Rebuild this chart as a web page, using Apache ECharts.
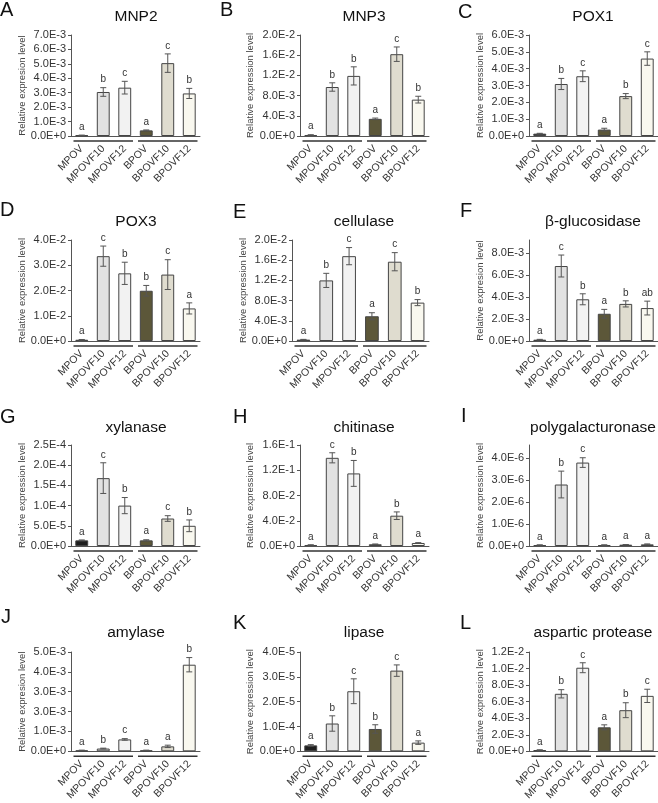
<!DOCTYPE html>
<html>
<head>
<meta charset="utf-8">
<script src="https://cdn.jsdelivr.net/npm/echarts@6/dist/echarts.min.js"></script>
<style>
  html, body { margin: 0; padding: 0; background: #fff; }
  #main { width: 658px; height: 803px; }
</style>
</head>
<body>
<div id="main"></div>
<script>
const categories = ['MPOV', 'MPOVF10', 'MPOVF12', 'BPOV', 'BPOVF10', 'BPOVF12'];
const panelLetters = ['A', 'B', 'C', 'D', 'E', 'F', 'G', 'H', 'I', 'J', 'K', 'L'];
const genes = ['MNP2', 'MNP3', 'POX1', 'POX3', 'cellulase', 'β-glucosidase',
  'xylanase', 'chitinase', 'polygalacturonase', 'amylase', 'lipase', 'aspartic protease'];
const yNames = ['Relative expresion level', 'Relative expression level', 'Relative expression level',
  'Relative expression level', 'Relative expression level', 'Relative expresion level',
  'Relative expression level', 'Relative expression level', 'Relative expression level',
  'Relative expresion level', 'Relative expression level', 'Relative expression level'];

// mean expression per category, one row per panel
const means = [
  [0.05e-3, 3.05e-3, 3.35e-3, 0.39e-3, 5.05e-3, 2.95e-3],
  [0.2e-3, 9.7e-3, 11.9e-3, 3.4e-3, 16.2e-3, 7.2e-3],
  [0.14e-3, 3.09e-3, 3.55e-3, 0.38e-3, 2.37e-3, 4.6e-3],
  [0.5e-3, 33.6e-3, 26.8e-3, 19.9e-3, 26.3e-3, 12.9e-3],
  [0.27e-3, 12.0e-3, 16.8e-3, 4.9e-3, 15.7e-3, 7.6e-3],
  [0.12e-3, 6.83e-3, 3.8e-3, 2.48e-3, 3.38e-3, 3.0e-3],
  [1.4e-5, 16.8e-5, 10.0e-5, 1.4e-5, 6.8e-5, 5.0e-5],
  [0.16e-2, 13.97e-2, 11.5e-2, 0.27e-2, 4.8e-2, 0.48e-2],
  [0.045e-6, 2.8e-6, 3.8e-6, 0.045e-6, 0.06e-6, 0.075e-6],
  [0.05e-3, 0.14e-3, 0.6e-3, 0.05e-3, 0.25e-3, 4.36e-3],
  [0.24e-5, 1.12e-5, 2.42e-5, 0.9e-5, 3.25e-5, 0.35e-5],
  [0.16e-3, 6.95e-3, 10.1e-3, 2.9e-3, 4.97e-3, 6.7e-3]
];

// error bar half-lengths
const errors = [
  [0.01e-3, 0.3e-3, 0.44e-3, 0.03e-3, 0.64e-3, 0.35e-3],
  [0.05e-3, 0.83e-3, 1.8e-3, 0.15e-3, 1.43e-3, 0.67e-3],
  [0.02e-3, 0.33e-3, 0.32e-3, 0.08e-3, 0.15e-3, 0.4e-3],
  [0.1e-3, 4.0e-3, 4.4e-3, 2.1e-3, 5.9e-3, 2.2e-3],
  [0.05e-3, 1.4e-3, 1.7e-3, 0.7e-3, 1.8e-3, 0.6e-3],
  [0.03e-3, 1.0e-3, 0.5e-3, 0.4e-3, 0.28e-3, 0.63e-3],
  [0.1e-5, 3.8e-5, 2.0e-5, 0.15e-5, 0.7e-5, 1.45e-5],
  [0.03e-2, 0.8e-2, 2.05e-2, 0.05e-2, 0.6e-2, 0.05e-2],
  [0.005e-6, 0.61e-6, 0.22e-6, 0.005e-6, 0.005e-6, 0.02e-6],
  [0.01e-3, 0.02e-3, 0.04e-3, 0.01e-3, 0.06e-3, 0.36e-3],
  [0.03e-5, 0.31e-5, 0.5e-5, 0.17e-5, 0.23e-5, 0.07e-5],
  [0.02e-3, 0.5e-3, 0.6e-3, 0.3e-3, 0.9e-3, 0.8e-3]
];

// significance letters
const sigLetters = [
  ['a', 'b', 'c', 'a', 'c', 'b'],
  ['a', 'b', 'b', 'a', 'c', 'b'],
  ['a', 'b', 'c', 'a', 'b', 'c'],
  ['a', 'c', 'b', 'b', 'c', 'a'],
  ['a', 'b', 'c', 'a', 'c', 'b'],
  ['a', 'c', 'b', 'a', 'b', 'ab'],
  ['a', 'c', 'b', 'a', 'c', 'b'],
  ['a', 'c', 'b', 'a', 'b', 'a'],
  ['a', 'b', 'c', 'a', 'a', 'a'],
  ['a', 'b', 'c', 'a', 'a', 'b'],
  ['a', 'b', 'c', 'b', 'c', 'a'],
  ['a', 'b', 'c', 'a', 'b', 'c']
];

const yMax = [7e-3, 2e-2, 6e-3, 4e-2, 2e-2, 9.2e-3, 2.5e-4, 1.6e-1, 4.6e-6, 5e-3, 4e-5, 1.2e-2];

const yTicks = [
  [0, 1e-3, 2e-3, 3e-3, 4e-3, 5e-3, 6e-3, 7e-3],
  [0, 4e-3, 8e-3, 12e-3, 16e-3, 20e-3],
  [0, 1e-3, 2e-3, 3e-3, 4e-3, 5e-3, 6e-3],
  [0, 1e-2, 2e-2, 3e-2, 4e-2],
  [0, 4e-3, 8e-3, 12e-3, 16e-3, 20e-3],
  [0, 2e-3, 4e-3, 6e-3, 8e-3],
  [0, 5e-5, 10e-5, 15e-5, 20e-5, 25e-5],
  [0, 4e-2, 8e-2, 12e-2, 16e-2],
  [0, 1e-6, 2e-6, 3e-6, 4e-6],
  [0, 1e-3, 2e-3, 3e-3, 4e-3, 5e-3],
  [0, 1e-5, 2e-5, 3e-5, 4e-5],
  [0, 2e-3, 4e-3, 6e-3, 8e-3, 10e-3, 12e-3]
];

const yTickLabels = [
  ['0.0E+0', '1.0E-3', '2.0E-3', '3.0E-3', '4.0E-3', '5.0E-3', '6.0E-3', '7.0E-3'],
  ['0.0E+0', '4.0E-3', '8.0E-3', '1.2E-2', '1.6E-2', '2.0E-2'],
  ['0.0E+0', '1.0E-3', '2.0E-3', '3.0E-3', '4.0E-3', '5.0E-3', '6.0E-3'],
  ['0.0E+0', '1.0E-2', '2.0E-2', '3.0E-2', '4.0E-2'],
  ['0.0E+0', '4.0E-3', '8.0E-3', '1.2E-2', '1.6E-2', '2.0E-2'],
  ['0.0E+0', '2.0E-3', '4.0E-3', '6.0E-3', '8.0E-3'],
  ['0.0E+0', '5.0E-5', '1.0E-4', '1.5E-4', '2.0E-4', '2.5E-4'],
  ['0.0E+0', '4.0E-2', '8.0E-2', '1.2E-1', '1.6E-1'],
  ['0.0E+0', '1.0E-6', '2.0E-6', '3.0E-6', '4.0E-6'],
  ['0.0E+0', '1.0E-3', '3.0E-3', '3.0E-3', '4.0E-3', '5.0E-3'],
  ['0.0E+0', '1.0E-4', '2.0E-5', '3.0E-5', '4.0E-5'],
  ['0.0E+0', '2.0E-3', '4.0E-3', '6.0E-3', '8.0E-3', '1.0E-2', '1.2E-2']
];

const barColors = ['#1f1f1f', '#e2e2e2', '#f2f2f2', '#5c5739', '#dfdccf', '#f9f8ef'];
const FONT = 'Liberation Sans, Arial, sans-serif';

// layout of the 4 x 3 panels
const gridLeft = [71, 300, 529, 71, 292, 529, 71, 300, 529, 71, 300, 529];
const gridRight = [200, 429, 658];
const rowTop = [35, 240, 445, 652];
const rowHeight = [101, 101, 101, 100];
const titleX = [136, 364, 593];
const titleY = [17, 222, 428, 633];
const nameGaps = [44, 45, 44, 44, 40, 44, 44, 45, 44, 44, 45, 44];
const letterPos = [[0, 10], [220, 10], [458, 12], [0, 210], [233, 212], [460, 211],
  [0, 417], [233, 417], [461, 416], [1, 617], [233, 623], [460, 623]];

const chart = echarts.init(document.getElementById('main'));

const grids = [], xAxes = [], yAxes = [], series = [], graphics = [];

function errRenderer(p) {
  return function (params, api) {
    const i = params.dataIndex;
    const x = api.value(0), m = api.value(1), e = api.value(2);
    const hi = api.coord([x, m + e]);
    const lo = api.coord([x, Math.max(m - e, 0)]);
    const base = api.coord([x, 0]);
    const bw = api.size([1, 0])[0];
    const kids = [];
    const st = { stroke: '#555', lineWidth: 1 };
    kids.push({ type: 'line', shape: { x1: hi[0], y1: hi[1], x2: lo[0], y2: lo[1] }, style: st });
    kids.push({ type: 'line', shape: { x1: hi[0] - 3, y1: hi[1], x2: hi[0] + 3, y2: hi[1] }, style: st });
    kids.push({ type: 'line', shape: { x1: lo[0] - 3, y1: lo[1], x2: lo[0] + 3, y2: lo[1] }, style: st });
    kids.push({
      type: 'text',
      style: {
        text: sigLetters[p][i], x: hi[0], y: hi[1] - 3,
        textAlign: 'center', textVerticalAlign: 'bottom',
        fontSize: 10, fontFamily: FONT, fill: '#333'
      }
    });
    // group underline below the axis (MPOV group and BPOV group)
    if (i === 0 || i === 3) {
      const end = api.coord([x + 2, 0]);
      kids.push({
        type: 'line',
        shape: { x1: base[0] - bw / 2 + 2.5, y1: base[1] + 5, x2: end[0] + bw / 2 - 2.5, y2: base[1] + 5 },
        style: { stroke: '#333', lineWidth: 1.5 }
      });
    }
    return { type: 'group', children: kids };
  };
}

for (let p = 0; p < 12; p++) {
  const row = Math.floor(p / 3), col = p % 3;
  const left = gridLeft[p];
  grids.push({
    left: left, top: rowTop[row],
    width: gridRight[col] - left, height: rowHeight[row],
    containLabel: false
  });
  xAxes.push({
    gridIndex: p, type: 'category', data: categories,
    axisLine: { show: true, lineStyle: { color: '#555', width: 1 } },
    axisTick: { show: false },
    axisLabel: { rotate: 45, interval: 0, fontSize: 10.5, color: '#333', margin: 11, fontFamily: FONT }
  });
  const ticks = yTicks[p], labels = yTickLabels[p];
  yAxes.push({
    gridIndex: p, type: 'value', min: 0, max: yMax[p],
    name: yNames[p], nameLocation: 'middle', nameGap: nameGaps[p],
    nameTextStyle: { fontSize: 9.5, color: '#444', fontFamily: FONT },
    axisLine: { show: true, lineStyle: { color: '#555', width: 1 } },
    axisTick: { show: true, length: 3, lineStyle: { color: '#555' }, customValues: ticks },
    axisLabel: {
      fontSize: 11, color: '#333', margin: 5, fontFamily: FONT, customValues: ticks,
      formatter: function (v) {
        let best = 0;
        ticks.forEach((t, k) => { if (Math.abs(t - v) < Math.abs(ticks[best] - v)) best = k; });
        return labels[best];
      }
    },
    splitLine: { show: false }
  });
  series.push({
    type: 'bar', xAxisIndex: p, yAxisIndex: p, barWidth: '60%',
    data: means[p].map((v, i) => ({ value: v, itemStyle: { color: barColors[i] } })),
    itemStyle: { borderColor: '#444', borderWidth: 1 }
  });
  series.push({
    type: 'custom', xAxisIndex: p, yAxisIndex: p, z: 5,
    renderItem: errRenderer(p),
    data: means[p].map((m, i) => [i, m, errors[p][i]])
  });
  graphics.push({
    type: 'text', x: titleX[col], y: titleY[row],
    style: { text: genes[p], fontSize: 15.5, fontFamily: FONT, fill: '#111', textAlign: 'center', textVerticalAlign: 'middle' }
  });
  graphics.push({
    type: 'text', x: letterPos[p][0], y: letterPos[p][1],
    style: { text: panelLetters[p], fontSize: 20, fontFamily: FONT, fill: '#111', textAlign: 'left', textVerticalAlign: 'middle' }
  });
}

chart.setOption({
  animation: false,
  backgroundColor: '#fff',
  grid: grids,
  xAxis: xAxes,
  yAxis: yAxes,
  series: series,
  graphic: graphics
});
</script>
</body>
</html>
